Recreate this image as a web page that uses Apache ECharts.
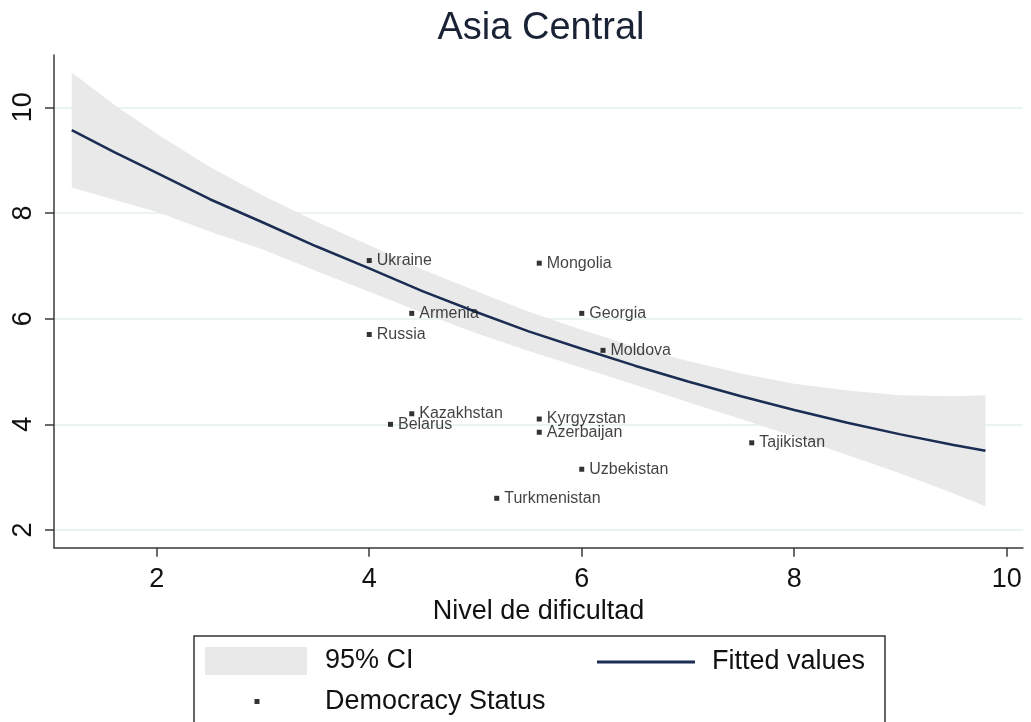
<!DOCTYPE html>
<html>
<head>
<meta charset="utf-8">
<title>Asia Central</title>
<script src="https://cdn.jsdelivr.net/npm/echarts@6/dist/echarts.min.js"></script>
<style>
  html, body { margin: 0; padding: 0; background: #ffffff; }
  #chart { width: 1031px; height: 722px; }
</style>
</head>
<body>
<div id="chart"></div>
<script>
// Countries and their scores
const countries = ['Ukraine', 'Mongolia', 'Armenia', 'Georgia', 'Russia', 'Moldova',
  'Kazakhstan', 'Belarus', 'Kyrgyzstan', 'Azerbaijan', 'Uzbekistan', 'Turkmenistan', 'Tajikistan'];
const difficulty = [4.0, 5.6, 4.4, 6.0, 4.0, 6.2, 4.4, 4.2, 5.6, 5.6, 6.0, 5.2, 7.6];
const democracy = [7.1, 7.05, 6.1, 6.1, 5.7, 5.4, 4.2, 4.0, 4.1, 3.85, 3.15, 2.6, 3.65];

// Fitted curve with its 95% confidence band
const fitX = [1.2, 1.6, 2.0, 2.5, 3.0, 3.5, 4.0, 4.5, 5.0, 5.5, 6.0, 6.5, 7.0, 7.5, 8.0, 8.5, 9.0, 9.5, 9.8];
const fitY = [9.57, 9.15, 8.76, 8.26, 7.82, 7.37, 6.95, 6.52, 6.13, 5.76, 5.43, 5.11, 4.81, 4.53, 4.27, 4.03, 3.81, 3.61, 3.50];
const ciUpper = [10.66, 10.05, 9.50, 8.87, 8.33, 7.84, 7.39, 6.93, 6.53, 6.13, 5.79, 5.47, 5.20, 4.96, 4.77, 4.64, 4.55, 4.53, 4.55];
const ciLower = [8.48, 8.25, 8.02, 7.65, 7.31, 6.90, 6.51, 6.11, 5.73, 5.39, 5.07, 4.75, 4.42, 4.10, 3.77, 3.42, 3.07, 2.69, 2.45];

// Axis ticks
const xTicks = [2, 4, 6, 8, 10];
const yTicks = [2, 4, 6, 8, 10];

const FONT = "'Liberation Sans', Arial, sans-serif";
const NAVY = '#1b2d52';
const BAND = '#e9e9e9';
const AXIS = '#3a3a3a';

const chart = echarts.init(document.getElementById('chart'), null, { renderer: 'canvas' });

const scatterData = countries.map((c, i) => ({ name: c, value: [difficulty[i], democracy[i]] }));
const lineData = fitX.map((x, i) => [x, fitY[i]]);

const option = {
  animation: false,
  backgroundColor: '#ffffff',
  textStyle: { fontFamily: FONT },
  title: {
    text: 'Asia Central',
    left: 536,
    top: 5,
    textAlign: 'center',
    textStyle: { fontFamily: FONT, fontSize: 38, fontWeight: 'normal', color: '#1a2236' }
  },
  grid: { left: 54, right: 8, top: 55, bottom: 174.3, containLabel: false },
  xAxis: {
    type: 'value',
    min: 1.033,
    max: 10.153,
    name: 'Nivel de dificultad',
    nameLocation: 'middle',
    nameGap: 46,
    nameTextStyle: { fontFamily: FONT, fontSize: 27, color: '#111' },
    axisLine: { show: true, onZero: false, lineStyle: { color: AXIS, width: 1.5 } },
    axisTick: { show: true, length: 9, customValues: xTicks, lineStyle: { color: AXIS, width: 1.5 } },
    axisLabel: { customValues: xTicks, margin: 18, fontFamily: FONT, fontSize: 27, color: '#111' },
    splitLine: { show: false }
  },
  yAxis: {
    type: 'value',
    min: 1.665,
    max: 10.99,
    axisLine: { show: true, onZero: false, lineStyle: { color: AXIS, width: 1.5 } },
    axisTick: { show: true, length: 9, customValues: yTicks, lineStyle: { color: AXIS, width: 1.5 } },
    axisLabel: { customValues: yTicks, rotate: 90, margin: 17, fontFamily: FONT, fontSize: 27, color: '#111' },
    splitLine: { show: true, lineStyle: { color: '#e3eeee', width: 1.5 } }
  },
  legend: [
    {
      data: [{ name: '95% CI', icon: 'rect', itemStyle: { color: BAND } }],
      left: 205, top: 647, padding: 0,
      itemWidth: 102, itemHeight: 28,
      selectedMode: false,
      textStyle: { fontFamily: FONT, fontSize: 27, color: '#111', padding: [0, 0, 0, 13] }
    },
    {
      data: [{ name: 'Fitted values', icon: 'rect', itemStyle: { color: NAVY } }],
      left: 597, top: 648.5, padding: 0,
      itemWidth: 98, itemHeight: 3,
      selectedMode: false,
      textStyle: { fontFamily: FONT, fontSize: 27, color: '#111', padding: [0, 0, 0, 12] }
    },
    {
      data: [{ name: 'Democracy Status', icon: 'rect', itemStyle: { color: '#000' } }],
      left: 254.5, top: 688, padding: 0,
      itemWidth: 5, itemHeight: 5,
      selectedMode: false,
      textStyle: { fontFamily: FONT, fontSize: 27, color: '#111', padding: [0, 0, 0, 60.5] }
    }
  ],
  graphic: [
    {
      type: 'rect',
      shape: { x: 194, y: 636, width: 691, height: 110 },
      style: { fill: 'none', stroke: '#333', lineWidth: 1.5 },
      silent: true
    }
  ],
  series: [
    {
      name: '95% CI',
      type: 'custom',
      silent: true,
      z: 1,
      itemStyle: { color: BAND },
      data: [[fitX[0], ciUpper[0]]],
      renderItem: function (params, api) {
        const pts = [];
        for (let i = 0; i < fitX.length; i++) pts.push(api.coord([fitX[i], ciUpper[i]]));
        for (let i = fitX.length - 1; i >= 0; i--) pts.push(api.coord([fitX[i], ciLower[i]]));
        return { type: 'polygon', shape: { points: pts }, style: { fill: BAND } };
      }
    },
    {
      name: 'Fitted values',
      type: 'line',
      z: 3,
      data: lineData,
      smooth: false,
      showSymbol: false,
      symbol: 'none',
      lineStyle: { color: NAVY, width: 2.5 },
      itemStyle: { color: NAVY }
    },
    {
      name: 'Democracy Status',
      type: 'scatter',
      z: 4,
      symbol: 'rect',
      symbolSize: 5,
      itemStyle: { color: '#000' },
      data: scatterData,
      label: {
        show: true,
        position: 'right',
        distance: 5,
        formatter: '{b}',
        fontFamily: FONT,
        fontSize: 16,
        color: '#111'
      }
    }
  ]
};

chart.setOption(option);
</script>
</body>
</html>
